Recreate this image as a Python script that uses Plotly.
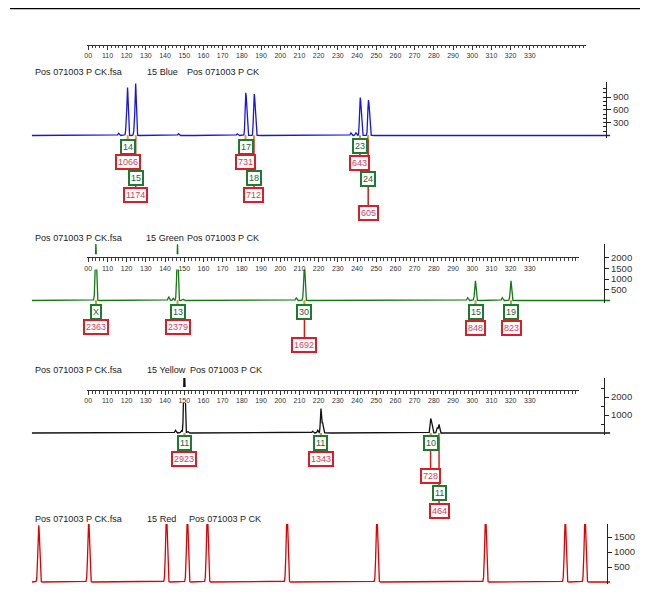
import numpy as np
import plotly.graph_objects as go

# The page body keeps an 8px margin, so the figure is 640x594 and every
# screen position below is shifted by OFF.
SW, SH = 648, 602
OFF = 8
W, H = SW - OFF, SH - OFF

# ---------------- data ----------------
ruler_ticks = list(range(100, 331, 10))
ruler_labels = ["00"] + [str(v) for v in range(110, 331, 10)]

sample_name = "Pos 071003 P CK.fsa"
run_name = "Pos 071003 P CK"
dye_labels = ["15 Blue", "15 Green", "15 Yellow", "15 Red"]

# Blue dye: called alleles (size in bp, peak height in RFU)
blue_bp = [120.5, 124.7, 181.9, 186.3, 241.5, 245.8]
blue_height = [1066, 1174, 731, 712, 643, 605]
blue_allele = ["14", "15", "17", "18", "23", "24"]
blue_minor_bp = [73, 75, 77, 83.6, 97.7, 115.8, 119.9, 124.1, 140.2, 147, 160.5,
                 177.6, 182.4, 186.8, 223.9, 228, 236.8, 239.4, 242.0, 246.3,
                 297, 326.6, 362.5]
blue_minor_h = [15, 15, 12, 15, 15, 50, 280, 220, 15, 45, 15,
                40, 620, 600, 15, 15, 60, 70, 560, 520,
                15, 15, 15]
blue_ticks = [300, 600, 900]

# Green dye
green_bp = [104.0, 146.5, 212.6, 301.7, 320.2]
green_height = [2363, 2379, 1692, 848, 823]
green_allele = ["X", "13", "30", "15", "19"]
green_minor_bp = [103.6, 122.6, 141.9, 144.2, 146.1, 149.4, 208.3, 212.1, 297.6, 301.2, 315.6, 319.8]
green_minor_h = [600, 30, 180, 100, 500, 60, 120, 250, 130, 200, 130, 200]
green_ticks = [500, 1000, 1500, 2000]

# Yellow dye
yellow_bp = [150.1, 221.2, 278.3, 282.7]
yellow_height = [2923, 1343, 728, 464]
yellow_allele = ["11", "11", "10", "11"]
yellow_minor_bp = [145.4, 148.5, 149.8, 151.7, 216.9, 219.5, 222.1, 279.0, 281.8]
yellow_minor_h = [150, 120, 1400, 100, 100, 150, 540, 600, 300]
yellow_ticks = [1000, 2000]

# Red dye (size standard)
red_bp = [74.3, 100.3, 140.8, 151.7, 162.1, 203.6, 250.4, 307.0, 348.5, 358.8]
red_height = [1370, 1500, 1700, 1670, 1770, 1770, 1670, 1670, 1600, 1670]
red_shoulder_h = [620, 700, 760, 740, 800, 800, 740, 760, 720, 750]
red_ticks = [500, 1000, 1500]

# ---------------- layout constants (screen pixels) ----------------
X0, S = 86.5, 1.926          # screen pixel of 100 bp, pixels per bp


def bp_at(px):
    return 100 + (px - X0) / S


def yp(py):
    return 1 - (py - OFF) / H


def xp(px):
    return (px - OFF) / W


FONT = "Arial, Liberation Sans, sans-serif"

panels = [
    dict(bp=blue_bp, h=blue_height, al=blue_allele, mbp=blue_minor_bp, mh=blue_minor_h,
         ticks=blue_ticks, minor=list(range(100, 1200, 100)),
         base=135.5, k=0.0427, top=82, axis_px=606, color="#1616dc", sig=0.3,
         title_py=72.5, title_x=(34, 146, 187), ruler_py=44.5, ruler_end=586, mask=None,
         label_px=[(147, 162), (178.5, 195), (147, 162), (178.5, 195), (146.5, 162.5), (179, 212.5)]),
    dict(bp=green_bp, h=green_height, al=green_allele, mbp=green_minor_bp, mh=green_minor_h,
         ticks=green_ticks, minor=None,
         base=300.5, k=0.0214, top=244, axis_px=604, color="#137a13", sig=0.3,
         title_py=237.5, title_x=(34, 145, 187), ruler_py=257.3, ruler_end=579, mask=(254.3, 269.5),
         label_px=[(312, 327), (312, 327), (312, 344.5), (312, 328), (312, 328)]),
    dict(bp=yellow_bp, h=yellow_height, al=yellow_allele, mbp=yellow_minor_bp, mh=yellow_minor_h,
         ticks=yellow_ticks, minor=[500, 1500, 2500],
         base=433, k=0.018, top=378, axis_px=604, color="#111111", sig=0.3,
         title_py=369.5, title_x=(34, 146, 190), ruler_py=390, ruler_end=579, mask=(387, 403),
         label_px=[(443.3, 459.3), (443.3, 459.3), (443.3, 476), (492.7, 510.7)]),
    dict(bp=red_bp, h=red_height, al=None, mbp=[b - 0.3 for b in red_bp], mh=red_shoulder_h,
         ticks=red_ticks, minor=None,
         base=582, k=0.030, top=524, axis_px=607, color="#e00000", sig=0.4,
         title_py=519, title_x=(34, 146, 189), ruler_py=None, ruler_end=None, mask=None, label_px=None),
]

xg = np.arange(bp_at(30), bp_at(610), 0.03)


def profile(bps, hs, sig):
    y = np.zeros_like(xg)
    for b, h in zip(bps, hs):
        y += h * np.exp(-0.5 * ((xg - b) / sig) ** 2)
    return y


fig = go.Figure()
layout = dict(
    width=W, height=H, margin=dict(l=0, r=0, t=0, b=0, pad=0),
    paper_bgcolor="white", plot_bgcolor="rgba(0,0,0,0)", showlegend=False,
    font=dict(family=FONT, color="#222"),
    xaxis=dict(domain=[0, 1], range=[bp_at(OFF), bp_at(SW)], visible=False, anchor="y"),
)
shapes = [dict(type="line", xref="paper", yref="paper", x0=0, x1=1, y0=0.999, y1=0.999,
               line=dict(color="black", width=1.5))]
annotations = []

pad = 2.0
ruler_ax = 2
for i, p in enumerate(panels):
    yid = "y" if i == 0 else f"y{i + 1}"
    ykey = "yaxis" if i == 0 else f"yaxis{i + 1}"
    ytop = (p["base"] - p["top"]) / p["k"]
    ax = dict(domain=[yp(p["base"] + pad), yp(p["top"])], range=[-pad / p["k"], ytop],
              side="right", anchor="free", position=xp(p["axis_px"]),
              showline=True, linecolor="#222", linewidth=1, ticks="outside", ticklen=4,
              tickcolor="#222", tickvals=p["ticks"], tickfont=dict(size=9.5, color="#333"),
              showgrid=False, zeroline=False)
    if p["minor"]:
        ax["minor"] = dict(tickvals=p["minor"], ticks="inside", ticklen=3, tickcolor="#222")
    layout[ykey] = ax

    y = profile(p["bp"], p["h"], p["sig"]) + profile(p["mbp"], p["mh"], p["sig"] * 1.1)
    fig.add_trace(go.Scatter(x=xg, y=y, mode="lines", xaxis="x", yaxis=yid,
                             line=dict(color=p["color"], width=1.3), hoverinfo="skip"))

    # ruler (size axis)
    if p["ruler_py"] is not None:
        xid = f"x{ruler_ax}"
        layout[f"xaxis{ruler_ax}"] = dict(
            domain=[xp(85), xp(p["ruler_end"])], range=[bp_at(85), bp_at(p["ruler_end"])],
            anchor="free", position=yp(p["ruler_py"]), side="bottom",
            showline=True, linecolor="#333", linewidth=1, ticks="outside", ticklen=4,
            tickcolor="#333", tickvals=ruler_ticks, ticktext=ruler_labels,
            tickfont=dict(size=7, color="#333"), showgrid=False, zeroline=False,
            minor=dict(dtick=2, tick0=100, ticks="outside", ticklen=2.5, tickcolor="#444"))
        if p["mask"] is not None:
            m0, m1 = p["mask"]
            xa, xb = bp_at(84), bp_at(p["ruler_end"] + 1)
            ya, yb = (p["base"] - m0) / p["k"], (p["base"] - m1) / p["k"]
            fig.add_trace(go.Scatter(x=[xa, xb, xb, xa, xa], y=[ya, ya, yb, yb, ya],
                                     mode="lines", fill="toself", fillcolor="white",
                                     line=dict(width=0, color="white"),
                                     xaxis=xid, yaxis=yid, hoverinfo="skip"))
        else:
            fig.add_trace(go.Scatter(x=[None], y=[None], xaxis=xid, yaxis=yid, hoverinfo="skip"))
        ruler_ax += 1

    # titles
    ty = yp(p["title_py"])
    for txt, px in zip([sample_name, dye_labels[i], run_name], p["title_x"]):
        annotations.append(dict(text=txt, xref="paper", yref="paper", x=xp(px), y=ty,
                                xanchor="left", yanchor="middle", showarrow=False,
                                borderpad=0, borderwidth=0, xshift=-1,
                                font=dict(size=9.1, color="#222", family=FONT)))

    # allele / height labels
    if p["al"] is not None:
        for b, h, a, (gy, ry) in zip(p["bp"], p["h"], p["al"], p["label_px"]):
            shapes.append(dict(type="line", xref="x", yref="paper", x0=b, x1=b,
                               y0=yp(p["base"]), y1=yp(gy), line=dict(color="#d02020", width=1.5)))
            shapes.append(dict(type="line", xref="x", yref="paper", x0=b, x1=b,
                               y0=yp(gy), y1=yp(ry), line=dict(color="#d41a1a", width=1.5)))
            shapes.append(dict(type="line", xref="x", yref="paper", x0=b, x1=b,
                               y0=yp(p["base"]), y1=yp(p["base"] + 4), line=dict(color="#e0a020", width=1.5)))
            annotations.append(dict(text=a, xref="x", yref="paper", x=b, y=yp(gy),
                                    xanchor="center", yanchor="middle", showarrow=False,
                                    font=dict(size=9, color="#2d5e3c", family=FONT),
                                    bgcolor="white", bordercolor="#1d7a2e", borderwidth=2, borderpad=1))
            annotations.append(dict(text=str(h), xref="x", yref="paper", x=b, y=yp(ry),
                                    xanchor="center", yanchor="middle", showarrow=False,
                                    font=dict(size=9, color="#d2455a", family=FONT),
                                    bgcolor="white", bordercolor="#d81e28", borderwidth=2, borderpad=1))

layout["shapes"] = shapes
layout["annotations"] = annotations
fig.update_layout(**layout)
fig.write_html("out.html")
